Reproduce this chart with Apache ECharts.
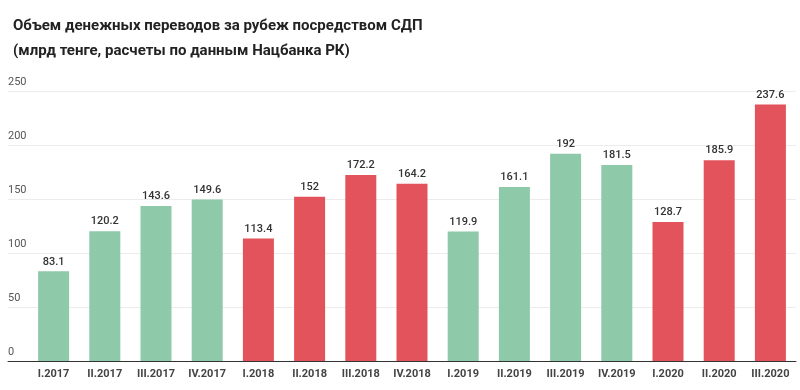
<!DOCTYPE html>
<html><head><meta charset="utf-8">
<script src="https://cdn.jsdelivr.net/npm/echarts@6/dist/echarts.min.js"></script>
<style>html,body{margin:0;padding:0;background:#fff}#c{width:800px;height:390px}</style>
</head><body><div id="c"></div>
<script>
const categories = ['I.2017','II.2017','III.2017','IV.2017','I.2018','II.2018','III.2018','IV.2018','I.2019','II.2019','III.2019','IV.2019','I.2020','II.2020','III.2020'];
const values = [83.1,120.2,143.6,149.6,113.4,152,172.2,164.2,119.9,161.1,192,181.5,128.7,185.9,237.6];
const years = ['2017','2017','2017','2017','2018','2018','2018','2018','2019','2019','2019','2019','2020','2020','2020'];
const yTicks = [0,50,100,150,200,250];
const colorByYear = {'2017':'#8ec9a9','2018':'#e2535b','2019':'#8ec9a9','2020':'#e2535b'};

const chart = echarts.init(document.getElementById('c'));
chart.setOption({
  animation:false,
  title:{
    text:'Объем денежных переводов за рубеж посредством СДП\n(млрд тенге, расчеты по данным Нацбанка РК)',
    left:8, top:9,
    textStyle:{fontFamily:'Roboto',fontSize:15,fontWeight:'bold',color:'#222',lineHeight:25}
  },
  grid:[
    {left:8,right:4,top:91,bottom:29},
    {left:28,right:4,top:91,bottom:29}
  ],
  xAxis:[
    {gridIndex:0,type:'category',data:[''],axisLine:{show:true,lineStyle:{color:'#333',width:1}},axisTick:{show:false},axisLabel:{show:false}},
    {gridIndex:1,type:'category',data:categories,axisLine:{show:false},axisTick:{show:false},
     axisLabel:{fontFamily:'Roboto',fontSize:11,fontWeight:'bold',color:'#444',margin:8}}
  ],
  yAxis:[
    {gridIndex:0,type:'value',min:0,max:250,interval:50,
     axisLine:{show:false},axisTick:{show:false},
     splitLine:{lineStyle:{color:'#ececec'}},
     axisLabel:{inside:true,margin:0,verticalAlign:'bottom',padding:[0,0,3,0],
       fontFamily:'Roboto',fontSize:11,color:'#555',
       formatter:v=>yTicks.includes(v)?String(v):''}},
    {gridIndex:1,type:'value',min:0,max:250,interval:50,show:false,splitLine:{show:false}}
  ],
  series:[{
    type:'bar',xAxisIndex:1,yAxisIndex:1,barWidth:31,
    data:values.map((v,i)=>({value:v,itemStyle:{color:colorByYear[years[i]]}})),
    label:{show:true,position:'top',distance:4,fontFamily:'Roboto',fontSize:11,color:'#333',fontWeight:500}
  }]
});
</script></body></html>
